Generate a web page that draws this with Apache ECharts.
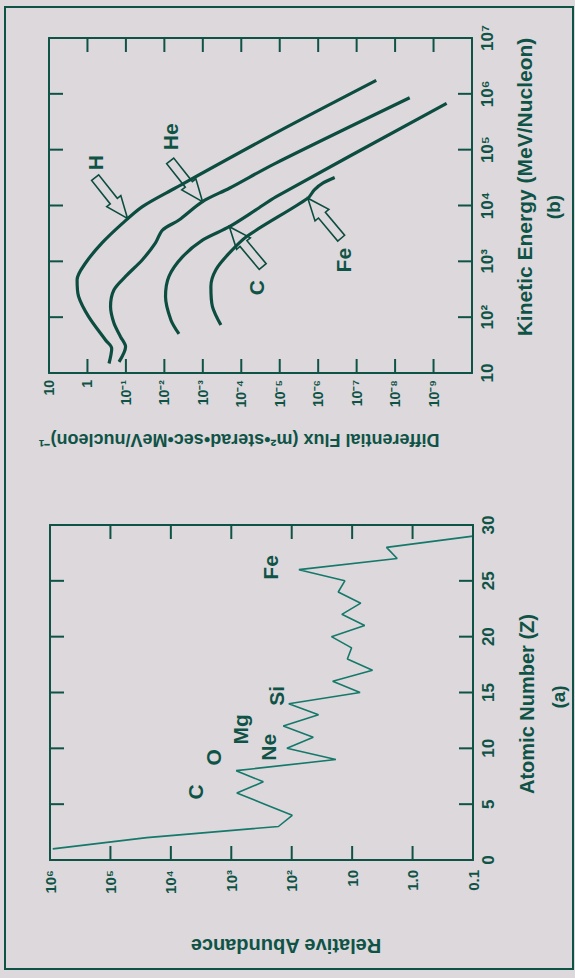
<!DOCTYPE html>
<html>
<head>
<meta charset="utf-8">
<script src="https://cdn.jsdelivr.net/npm/echarts@6/dist/echarts.min.js"></script>
<style>
html, body { margin: 0; padding: 0; background: #dcd8db; overflow: hidden; }
/* the figure is laid out upright and then turned a quarter turn to the left, as on the page */
#main { position: absolute; left: 0; top: 0; width: 978px; height: 575px;
        transform-origin: 0 0; transform: translateY(978px) rotate(-90deg); }
</style>
</head>
<body>
<div id="main"></div>
<script>
// (a) relative abundance vs atomic number
var atomicNumber = [1, 2, 3, 4, 5, 6, 7, 8, 9, 10, 11, 12, 13, 14, 15, 16, 17, 18, 19, 20, 21, 22, 23, 24, 25, 26, 27, 28, 29];
var abundance = [9e5, 2.5e4, 166, 98, 280, 810, 295, 830, 18.6, 120, 44, 138, 36, 112, 7.4, 21, 4.6, 12, 10.2, 22, 6.2, 14.8, 7.2, 17, 13.2, 76, 1.8, 2.7, 0.1];
var peakNames = ['C', 'O', 'Ne', 'Mg', 'Si', 'Fe'];
var peakZ = [6.1, 9.2, 10.1, 11.7, 14.7, 26.2];
var peakAbundance = [3980, 1950, 245, 708, 178, 224];

// (b) differential flux vs kinetic energy
var hEnergy = [14.8, 27.5, 38.9, 102, 234, 468, 933, 2140, 4790, 9550, 19950, 199500, 1738000];
var hFlux = [0.275, 0.234, 0.339, 0.933, 1.70, 1.86, 1.12, 0.417, 0.123, 0.0372, 0.00562, 1.26e-5, 3.09e-8];
var heEnergy = [15.8, 29.5, 44.7, 77.6, 155, 309, 537, 1070, 2140, 3630, 5500, 11750, 20400, 57500, 851000];
var heFlux = [0.151, 0.102, 0.138, 0.204, 0.251, 0.204, 0.102, 0.0372, 0.0170, 0.0112, 0.00417, 0.00102, 2.04e-4, 1.26e-5, 4.17e-9];
var cEnergy = [50.1, 89.1, 234, 537, 1200, 2400, 4170, 8320, 14450, 676000];
var cFlux = [0.00417, 0.00676, 0.00933, 0.00759, 0.00339, 0.00102, 2.04e-4, 4.17e-5, 1.23e-5, 4.57e-10];
var feEnergy = [72.4, 155, 355, 708, 1410, 2820, 13490, 19050, 25100, 31600];
var feFlux = [3.39e-4, 5.62e-4, 6.17e-4, 4.57e-4, 2.04e-4, 7.08e-5, 1.86e-6, 1.26e-6, 7.59e-7, 3.72e-7];
var arrowNames = ['H', 'He', 'C', 'Fe'];
var arrowEnergy = [5890, 11750, 4170, 13490];
var arrowFlux = [0.0912, 1.02e-3, 2.04e-4, 1.86e-6];

// ticks and their labels
var zTicks = [0, 5, 10, 15, 20, 25, 30];
var zTickLabels = ['0', '5', '10', '15', '20', '25', '30'];
var abundanceTicks = [0.1, 1, 10, 100, 1e3, 1e4, 1e5, 1e6];
var abundanceTickLabels = ['0.1', '1.0', '10', '10²', '10³', '10⁴', '10⁵', '10⁶'];
var energyTicks = [10, 100, 1e3, 1e4, 1e5, 1e6, 1e7];
var energyTickLabels = ['10', '10²', '10³', '10⁴', '10⁵', '10⁶', '10⁷'];
var fluxTicks = [1e-10, 1e-9, 1e-8, 1e-7, 1e-6, 1e-5, 1e-4, 1e-3, 1e-2, 0.1, 1, 10];
var fluxTickLabels = ['', '10⁻⁹', '10⁻⁸', '10⁻⁷', '10⁻⁶', '10⁻⁵', '10⁻⁴', '10⁻³', '10⁻²', '10⁻¹', '1', '10'];

var ink = '#0f5347';
var lineInk = '#0d4d41';
var paper = '#dcd8db';
var fontName = '"Liberation Sans", Arial, sans-serif';

// arrow look: direction of travel and where the letter sits from the tail
var arrowAngle = [141.6, 141.6, -39.9, -39.9];
var arrowLabelOffset = [[15, 0], [24, 0], [-21, -6], [-22, 2]];

function zip(a, b) { return a.map(function (x, i) { return [x, b[i]]; }); }
function labelFor(ticks, labels) {
    return function (v) {
        for (var i = 0; i < ticks.length; i++) {
            if (Math.abs(ticks[i] - v) <= Math.abs(ticks[i]) * 1e-6) return labels[i];
        }
        return '';
    };
}

function axisBase(extra, label) {
    return Object.assign({
        axisLine: { show: true, onZero: false, lineStyle: { color: ink, width: 2 } },
        axisTick: { show: false },
        minorTick: { show: false },
        splitLine: { show: false },
        axisLabel: label || { show: false }
    }, extra);
}
function tickText(size, margin, fmt) {
    return { show: true, margin: margin, color: ink, fontFamily: fontName, fontWeight: 'bold', fontSize: size,
             showMinLabel: true, showMaxLabel: true, hideOverlap: false, formatter: fmt };
}

// inward tick marks on both opposite edges of a plot, placed through the axes' scales
function tickSeries(xIdx, yIdx, data, vertical) {
    return {
        type: 'custom', xAxisIndex: xIdx, yAxisIndex: yIdx, clip: false, silent: true, z: 5,
        data: data,
        renderItem: function (params, api) {
            var cs = params.coordSys;
            var p = api.coord([api.value(0), api.value(1)]);
            var st = { fill: ink };
            var len = 14, w = 2;
            if (vertical) {
                return { type: 'group', children: [
                    { type: 'rect', shape: { x: p[0] - w / 2, y: cs.y + cs.height - len, width: w, height: len }, style: st },
                    { type: 'rect', shape: { x: p[0] - w / 2, y: cs.y, width: w, height: len }, style: st }
                ] };
            }
            return { type: 'group', children: [
                { type: 'rect', shape: { x: cs.x, y: p[1] - w / 2, width: len, height: w }, style: st },
                { type: 'rect', shape: { x: cs.x + cs.width - len, y: p[1] - w / 2, width: len, height: w }, style: st }
            ] };
        }
    };
}

var myChart = echarts.init(document.getElementById('main'), null, { renderer: 'svg', width: 978, height: 575 });

var option = {
    animation: false,
    backgroundColor: paper,
    grid: [
        { left: 118, top: 50, width: 335, height: 423 },
        { left: 605, top: 49, width: 335, height: 423 }
    ],
    xAxis: [
        axisBase({ gridIndex: 0, type: 'value', min: 0, max: 30, interval: 5, position: 'bottom' },
                 tickText(17, 7, labelFor(zTicks, zTickLabels))),
        axisBase({ gridIndex: 0, type: 'value', min: 0, max: 30, interval: 5, position: 'top' }),
        axisBase({ gridIndex: 1, type: 'log', logBase: 10, min: 10, max: 1e7, interval: 1, position: 'bottom' },
                 tickText(17, 7, labelFor(energyTicks, energyTickLabels))),
        axisBase({ gridIndex: 1, type: 'log', logBase: 10, min: 10, max: 1e7, interval: 1, position: 'top' })
    ],
    yAxis: [
        axisBase({ gridIndex: 0, type: 'log', logBase: 10, min: 0.1, max: 1e6, interval: 1, position: 'left' },
                 tickText(15, 10, labelFor(abundanceTicks, abundanceTickLabels))),
        axisBase({ gridIndex: 0, type: 'log', logBase: 10, min: 0.1, max: 1e6, interval: 1, position: 'right' }),
        axisBase({ gridIndex: 1, type: 'log', logBase: 10, min: 1e-10, max: 10, interval: 1, position: 'left' },
                 tickText(14, 7, labelFor(fluxTicks, fluxTickLabels))),
        axisBase({ gridIndex: 1, type: 'log', logBase: 10, min: 1e-10, max: 10, interval: 1, position: 'right' })
    ],
    graphic: [
        { type: 'rect', shape: { x: 9, y: 5, width: 962, height: 568 }, style: { fill: 'none', stroke: ink, lineWidth: 2 } },
        { type: 'text', x: 32, y: 286, rotation: Math.PI / 2,
          style: { text: 'Relative Abundance', font: 'bold 20px ' + fontName, fill: ink, align: 'center', verticalAlign: 'middle' } },
        { type: 'text', x: 274, y: 527,
          style: { text: 'Atomic Number (Z)', font: 'bold 20px ' + fontName, fill: ink, align: 'center', verticalAlign: 'middle' } },
        { type: 'text', x: 281, y: 558,
          style: { text: '(a)', font: 'bold 19px ' + fontName, fill: ink, align: 'center', verticalAlign: 'middle' } },
        { type: 'text', x: 538, y: 239, rotation: Math.PI / 2,
          style: { text: 'Differential Flux (m²•sterad•sec•MeV/nucleon)⁻¹', font: 'bold 18px ' + fontName, fill: ink, align: 'center', verticalAlign: 'middle' } },
        { type: 'text', x: 791, y: 524,
          style: { text: 'Kinetic Energy (MeV/Nucleon)', font: 'bold 21px ' + fontName, fill: ink, align: 'center', verticalAlign: 'middle' } },
        { type: 'text', x: 771, y: 553,
          style: { text: '(b)', font: 'bold 19px ' + fontName, fill: ink, align: 'center', verticalAlign: 'middle' } }
    ],
    series: [
        tickSeries(0, 0, zTicks.map(function (z) { return [z, 1]; }), true),
        tickSeries(0, 0, abundanceTicks.map(function (a) { return [15, a]; }), false),
        tickSeries(2, 2, energyTicks.map(function (e) { return [e, 1]; }), true),
        tickSeries(2, 2, fluxTicks.map(function (f) { return [1000, f]; }), false),
        { name: 'abundance', type: 'line', xAxisIndex: 0, yAxisIndex: 0, showSymbol: false,
          data: zip(atomicNumber, abundance), lineStyle: { color: '#14786a', width: 1.6 } },
        { name: 'peaks', type: 'custom', xAxisIndex: 0, yAxisIndex: 0, clip: false,
          data: zip(peakZ, peakAbundance),
          renderItem: function (params, api) {
              var p = api.coord([api.value(0), api.value(1)]);
              return { type: 'text', x: p[0], y: p[1],
                       style: { text: peakNames[params.dataIndex], font: 'bold 21px ' + fontName, fill: ink, align: 'center', verticalAlign: 'middle' } };
          } },
        { name: 'H', type: 'line', xAxisIndex: 2, yAxisIndex: 2, showSymbol: false, smooth: 0.3,
          data: zip(hEnergy, hFlux), lineStyle: { color: lineInk, width: 3.2 } },
        { name: 'He', type: 'line', xAxisIndex: 2, yAxisIndex: 2, showSymbol: false, smooth: 0.3,
          data: zip(heEnergy, heFlux), lineStyle: { color: lineInk, width: 3.2 } },
        { name: 'C', type: 'line', xAxisIndex: 2, yAxisIndex: 2, showSymbol: false, smooth: 0.3,
          data: zip(cEnergy, cFlux), lineStyle: { color: lineInk, width: 3.2 } },
        { name: 'Fe', type: 'line', xAxisIndex: 2, yAxisIndex: 2, showSymbol: false, smooth: 0.3,
          data: zip(feEnergy, feFlux), lineStyle: { color: lineInk, width: 3.2 } },
        { name: 'arrows', type: 'custom', xAxisIndex: 2, yAxisIndex: 2, clip: false,
          data: zip(arrowEnergy, arrowFlux),
          renderItem: function (params, api) {
              var i = params.dataIndex;
              var p = api.coord([api.value(0), api.value(1)]);
              var a = arrowAngle[i] * Math.PI / 180, dx = Math.cos(a), dy = Math.sin(a);
              var pt = function (s, t) { return [p[0] + s * dx - t * dy, p[1] + s * dy + t * dx]; };
              var L = 52, H = 22, W = 9, S = 4.5;
              var tail = pt(-L, 0);
              return { type: 'group', children: [
                  { type: 'polygon', shape: { points: [pt(0, 0), pt(-H, -W), pt(-H, -S), pt(-L, -S), pt(-L, S), pt(-H, S), pt(-H, W)] },
                    style: { fill: paper, stroke: lineInk, lineWidth: 1.6 } },
                  { type: 'text', x: tail[0] + arrowLabelOffset[i][0], y: tail[1] + arrowLabelOffset[i][1],
                    style: { text: arrowNames[i], font: 'bold 21px ' + fontName, fill: ink, align: 'center', verticalAlign: 'middle' } }
              ] };
          } }
    ]
};

myChart.setOption(option);
</script>
</body>
</html>
